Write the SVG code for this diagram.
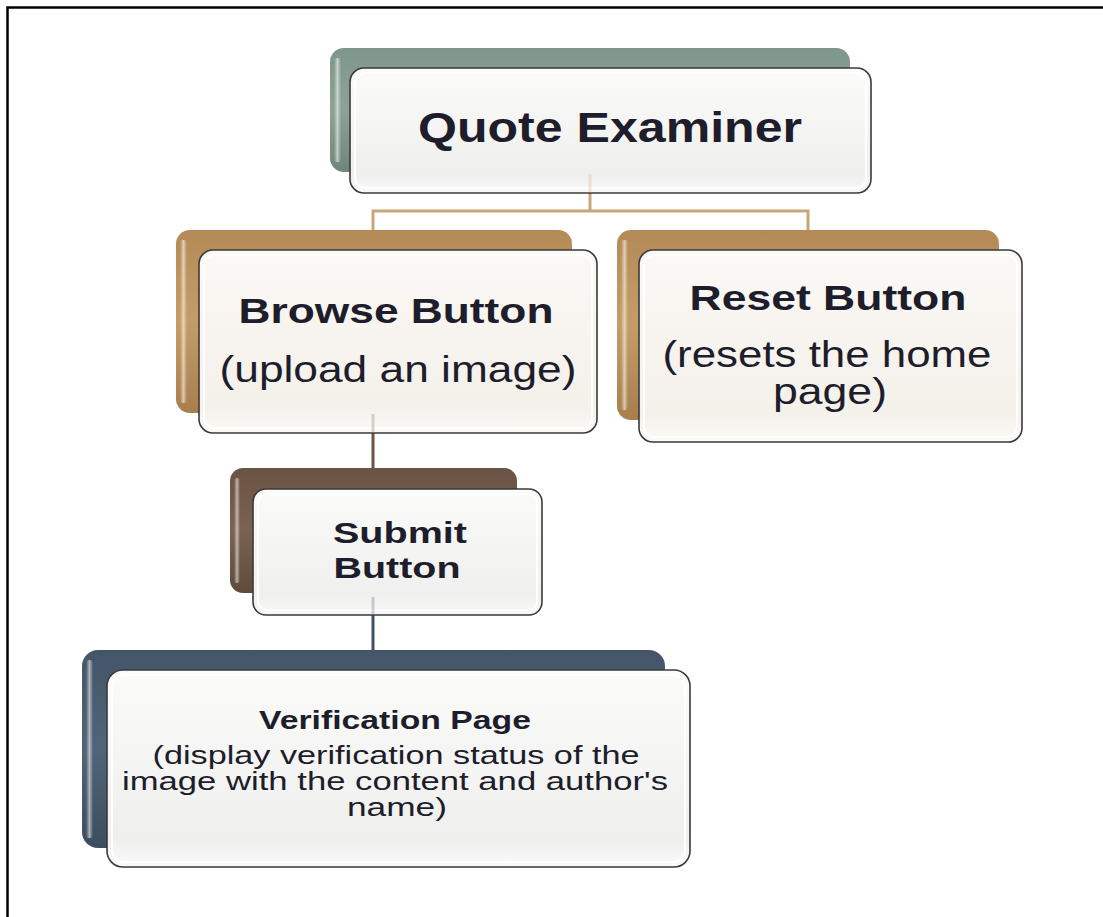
<svg xmlns="http://www.w3.org/2000/svg" width="1103" height="917" viewBox="0 0 1103 917">
  <defs>
    <linearGradient id="gGreen" x1="0" y1="0" x2="0" y2="1">
      <stop offset="0" stop-color="#7f968a"/>
      <stop offset="0.5" stop-color="#8ea398"/>
      <stop offset="1" stop-color="#6e8678"/>
    </linearGradient>
    <linearGradient id="gTan" x1="0" y1="0" x2="0" y2="1">
      <stop offset="0" stop-color="#b48a57"/>
      <stop offset="0.5" stop-color="#c39d68"/>
      <stop offset="1" stop-color="#a87e4c"/>
    </linearGradient>
    <linearGradient id="gBrown" x1="0" y1="0" x2="0" y2="1">
      <stop offset="0" stop-color="#6a5344"/>
      <stop offset="0.5" stop-color="#7a6352"/>
      <stop offset="1" stop-color="#5f4a3c"/>
    </linearGradient>
    <linearGradient id="gSlate" x1="0" y1="0" x2="0" y2="1">
      <stop offset="0" stop-color="#445569"/>
      <stop offset="0.5" stop-color="#52647a"/>
      <stop offset="1" stop-color="#3d4d60"/>
    </linearGradient>
    <linearGradient id="gCard" x1="0" y1="0" x2="0" y2="1">
      <stop offset="0" stop-color="#fbfbfa"/>
      <stop offset="0.85" stop-color="#efefee"/>
      <stop offset="1" stop-color="#f9f9f9"/>
    </linearGradient>
    <linearGradient id="gCardWarm" x1="0" y1="0" x2="0" y2="1">
      <stop offset="0" stop-color="#fbf9f6"/>
      <stop offset="0.85" stop-color="#f4f0ea"/>
      <stop offset="1" stop-color="#fbfaf8"/>
    </linearGradient>
    <linearGradient id="gShine" x1="0" y1="0" x2="1" y2="0">
      <stop offset="0" stop-color="#ffffff" stop-opacity="0"/>
      <stop offset="0.5" stop-color="#ffffff" stop-opacity="0.55"/>
      <stop offset="1" stop-color="#ffffff" stop-opacity="0"/>
    </linearGradient>
  </defs>
  <style>
    .frame { stroke: #000; stroke-width: 2.5; fill: none; }
    .card { stroke: #3a3a3a; stroke-width: 1.6; }
    .inner { fill: none; stroke: #ffffff; stroke-width: 2; opacity: 0.9; }
    .shine { fill: url(#gShine); }
    .ghost { fill: none; stroke-width: 3; opacity: 0.25; }
    .t { font-family: "Liberation Sans", Arial, sans-serif; fill: #1d1d2b; text-anchor: middle; }
    .b { font-weight: bold; }
    .link { fill: none; stroke-width: 3; }
  </style>

  <rect width="1103" height="917" fill="#ffffff"/>
  <path class="frame" d="M7.5 917 V7.5 H1103"/>

  <!-- connectors -->
  <g id="connectors">
    <path class="link" stroke="#c9a679" d="M590 193 V211 M373 230 V211 H808 V232"/>
    <path class="link" stroke="#6b5545" d="M373 433 V468"/>
    <path class="link" stroke="#3e5066" d="M373 615 V650"/>
  </g>

  <!-- Quote Examiner -->
  <g id="quote-examiner">
    <rect x="330" y="48" width="520" height="124" rx="14" fill="url(#gGreen)"/>
    <rect x="334" y="58" width="7" height="104" rx="3" class="shine"/>
    <rect class="card" x="350" y="68" width="521" height="125" rx="14" fill="url(#gCard)"/>
    <rect class="inner" x="355" y="73" width="511" height="115" rx="10"/>
    <path class="ghost" stroke="#c9a679" d="M590 174 V192"/>
    <text class="t b" x="610" y="142" font-size="42" textLength="384" lengthAdjust="spacingAndGlyphs">Quote Examiner</text>
  </g>

  <!-- Browse Button -->
  <g id="browse-button">
    <rect x="176" y="230" width="396" height="183" rx="14" fill="url(#gTan)"/>
    <rect x="180" y="240" width="7" height="163" rx="3" class="shine"/>
    <rect class="card" x="199" y="250" width="398" height="183" rx="14" fill="url(#gCardWarm)"/>
    <rect class="inner" x="204" y="255" width="388" height="173" rx="10"/>
    <path class="ghost" stroke="#6b5545" d="M373 414 V432"/>
    <text class="t b" x="396" y="323" font-size="35" textLength="315" lengthAdjust="spacingAndGlyphs">Browse Button</text>
    <text class="t" x="398" y="382" font-size="36" textLength="357" lengthAdjust="spacingAndGlyphs">(upload an image)</text>
  </g>

  <!-- Reset Button -->
  <g id="reset-button">
    <rect x="617" y="230" width="382" height="190" rx="14" fill="url(#gTan)"/>
    <rect x="621" y="240" width="7" height="170" rx="3" class="shine"/>
    <rect class="card" x="639" y="250" width="383" height="192" rx="14" fill="url(#gCardWarm)"/>
    <rect class="inner" x="644" y="255" width="373" height="182" rx="10"/>
    <text class="t b" x="828" y="310" font-size="35" textLength="277" lengthAdjust="spacingAndGlyphs">Reset Button</text>
    <text class="t" x="827" y="367" font-size="36" textLength="329" lengthAdjust="spacingAndGlyphs">(resets the home</text>
    <text class="t" x="830" y="404" font-size="36" textLength="114" lengthAdjust="spacingAndGlyphs">page)</text>
  </g>

  <!-- Submit Button -->
  <g id="submit-button">
    <rect x="230" y="468" width="287" height="125" rx="13" fill="url(#gBrown)"/>
    <rect x="234" y="478" width="6" height="105" rx="3" class="shine"/>
    <rect class="card" x="253" y="489" width="289" height="126" rx="13" fill="url(#gCard)"/>
    <rect class="inner" x="258" y="494" width="279" height="116" rx="9"/>
    <path class="ghost" stroke="#3e5066" d="M373 597 V614"/>
    <text class="t b" x="400" y="543" font-size="29" textLength="134" lengthAdjust="spacingAndGlyphs">Submit</text>
    <text class="t b" x="397" y="578" font-size="29" textLength="127" lengthAdjust="spacingAndGlyphs">Button</text>
  </g>

  <!-- Verification Page -->
  <g id="verification-page">
    <rect x="82" y="650" width="583" height="198" rx="16" fill="url(#gSlate)"/>
    <rect x="86" y="660" width="7" height="178" rx="3" class="shine"/>
    <rect class="card" x="107" y="670" width="583" height="197" rx="16" fill="url(#gCard)"/>
    <rect class="inner" x="112" y="675" width="573" height="187" rx="12"/>
    <text class="t b" x="395" y="729" font-size="25" textLength="272" lengthAdjust="spacingAndGlyphs">Verification  Page</text>
    <text class="t" x="396" y="764" font-size="25" textLength="487" lengthAdjust="spacingAndGlyphs">(display verification status of the</text>
    <text class="t" x="395" y="790" font-size="25" textLength="546" lengthAdjust="spacingAndGlyphs">image with the content and author's</text>
    <text class="t" x="397" y="816" font-size="25" textLength="100" lengthAdjust="spacingAndGlyphs">name)</text>
  </g>
</svg>
